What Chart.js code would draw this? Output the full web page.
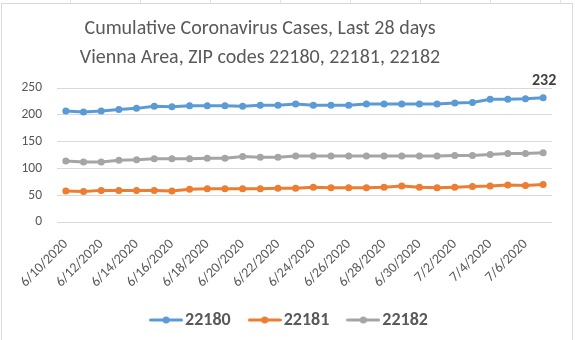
<!DOCTYPE html>
<html>
<head>
<meta charset="utf-8">
<script src="https://cdn.jsdelivr.net/npm/chart.js@4"></script>
<style>
html,body{margin:0;padding:0;background:#fff;}
#wrap{position:absolute;left:0;top:0;width:575px;height:340px;}
</style>
</head>
<body>
<div id="wrap"><canvas id="c" width="575" height="340"></canvas></div>
<script>
const dates = ["6/10/2020","6/11/2020","6/12/2020","6/13/2020","6/14/2020","6/15/2020","6/16/2020",
  "6/17/2020","6/18/2020","6/19/2020","6/20/2020","6/21/2020","6/22/2020","6/23/2020",
  "6/24/2020","6/25/2020","6/26/2020","6/27/2020","6/28/2020","6/29/2020","6/30/2020",
  "7/1/2020","7/2/2020","7/3/2020","7/4/2020","7/5/2020","7/6/2020","7/7/2020"];
const zip22180 = [207,205,207,210,212,216,215,217,217,217,216,218,218,220,218,218,218,220,220,220,220,220,222,223,229,229,230,232];
const zip22181 = [58,57,59,59,59,59,58,61,62,62,62,62,63,63,65,64,64,64,65,67,65,64,65,66,67,69,68,70];
const zip22182 = [114,112,112,115,116,118,118,118,119,119,122,121,121,123,123,123,123,123,123,123,123,123,124,124,126,128,128,129];
const seriesNames = ["22180","22181","22182"];
const titleLines = ["Cumulative Coronavirus Cases, Last 28 days","Vienna Area, ZIP codes 22180, 22181, 22182"];
const yTicks = {min:0, max:250, step:50};

const colors = ["#5B9BD5","#ED7D31","#A5A5A5"];
const FONT = "Carlito, Calibri, Lato, sans-serif";
const TXT = "#595959";

function legendIcon(color){
  const cv = document.createElement('canvas');
  cv.width = 34; cv.height = 10;
  const g = cv.getContext('2d');
  g.strokeStyle = color; g.lineWidth = 3; g.lineCap = 'round';
  g.beginPath(); g.moveTo(1.5,5); g.lineTo(32.5,5); g.stroke();
  g.fillStyle = color; g.beginPath(); g.arc(17,5,3.5,0,Math.PI*2); g.fill();
  return cv;
}

const frame = {
  id:'frame',
  beforeDraw(chart){
    const ctx = chart.ctx;
    ctx.save();
    ctx.fillStyle = '#fff'; ctx.fillRect(0,0,575,340);
    ctx.strokeStyle = '#D9D9D9'; ctx.lineWidth = 1;
    ctx.strokeRect(1.5,3.5,571,340);
    ctx.strokeStyle = '#E3E3E3';
    [70,140,210,280,350,420,490,560].forEach(x=>{ctx.beginPath();ctx.moveTo(x+0.5,0);ctx.lineTo(x+0.5,3);ctx.stroke();});
    ctx.restore();
  }
};

const lastLabel = {
  id:'lastLabel',
  afterDatasetsDraw(chart){
    const meta = chart.getDatasetMeta(0);
    const i = zip22180.length-1;
    const pt = meta.data[i];
    const ctx = chart.ctx;
    ctx.save();
    ctx.font = "bold 16px " + FONT;
    ctx.fillStyle = '#404040';
    ctx.textAlign = 'center'; ctx.textBaseline = 'bottom';
    ctx.fillText(String(zip22180[i]), pt.x + 1, pt.y - 9);
    ctx.restore();
  }
};

function shiftDraw(box, dx){
  const d = box.draw.bind(box);
  box.draw = function(){ const c = this.ctx; c.save(); c.translate(dx,0); d(...arguments); c.restore(); };
}

const boxFix = {
  id:'boxFix',
  afterInit(chart){
    const lg = chart.legend;
    if(lg){
      const f = lg.fit.bind(lg);
      lg.fit = function(){ f(); this.height = 53; };
      shiftDraw(lg, 16);
    }
    if(chart.titleBlock) shiftDraw(chart.titleBlock, -16);
  }
};

const mk = (name, data, color) => ({
  label:name, data, borderColor:color, backgroundColor:color,
  borderWidth:3, pointRadius:3.5, pointBackgroundColor:color, pointBorderColor:color,
  pointBorderWidth:0, tension:0, pointStyle:'circle'
});

new Chart(document.getElementById('c'), {
  type:'line',
  data:{
    labels: dates,
    datasets:[mk(seriesNames[0],zip22180,colors[0]), mk(seriesNames[1],zip22181,colors[1]), mk(seriesNames[2],zip22182,colors[2])]
  },
  options:{
    responsive:false, animation:false, devicePixelRatio:1,
    layout:{padding:{left:0,right:23,top:0,bottom:0}},
    plugins:{
      title:{display:true, text:titleLines, color:TXT,
        font:{family:FONT, size:20, weight:'normal', lineHeight:28.5/20},
        padding:{top:15,bottom:16}},
      legend:{position:'bottom',
        labels:{color:TXT, font:{family:FONT,size:18,weight:'bold'}, usePointStyle:true, pointStyleWidth:20, padding:24,
          generateLabels(chart){
            return chart.data.datasets.map((d,i)=>({text:d.label, pointStyle:legendIcon(colors[i]), fillStyle:colors[i], strokeStyle:colors[i], lineWidth:0, fontColor:TXT, datasetIndex:i, hidden:false}));
          }}},
      tooltip:{enabled:false}
    },
    scales:{
      x:{offset:true,
        grid:{display:false, drawTicks:false},
        border:{display:false},
        ticks:{autoSkip:false, maxRotation:45, minRotation:45, padding:14, color:TXT, font:{family:FONT,size:14},
          callback(v,i){ return i%2===0 ? this.getLabelForValue(v) : ''; }},
        afterFit(a){ a.height = 65; }
      },
      y:{min:yTicks.min, max:yTicks.max,
        ticks:{stepSize:yTicks.step, padding:15, color:TXT, font:{family:FONT,size:13.5}},
        grid:{color:'#D9D9D9', drawTicks:false, lineWidth:1},
        border:{display:false},
        afterFit(a){ a.width = 57; }
      }
    }
  },
  plugins:[frame,lastLabel,boxFix]
});
</script>
</body>
</html>
